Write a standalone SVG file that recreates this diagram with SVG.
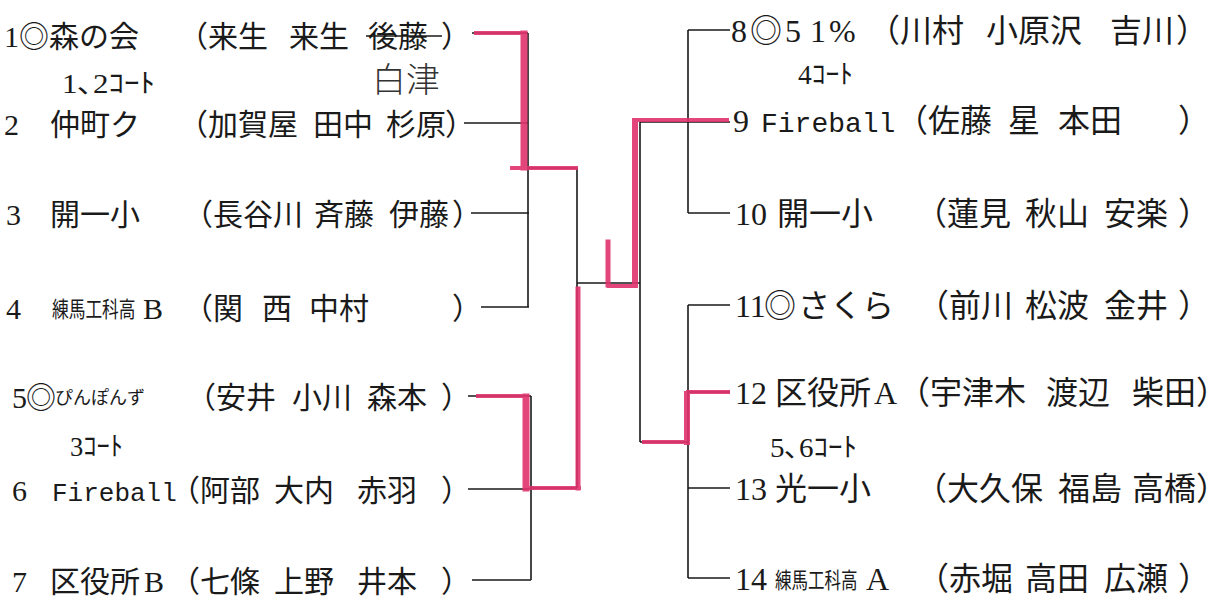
<svg xmlns="http://www.w3.org/2000/svg" width="1230" height="603" viewBox="0 0 1230 603">
<style>
.t{font-family:"Liberation Serif","Noto Sans CJK JP",serif;font-size:30px;fill:#1a1a1a}
.r{font-size:32px}
.m{font-family:"Liberation Mono","Noto Sans CJK JP",monospace}
.sm{font-size:22px}
.hk{font-size:18px}
.c{font-family:"Liberation Serif","Noto Sans CJK JP",serif;font-size:27px;fill:#1a1a1a}
.hw{font-family:"Noto Sans CJK JP",sans-serif;font-size:34px;font-weight:300;fill:#333}
.k{stroke:#1a1a1a;stroke-width:1.6;fill:none}
.red{stroke:#e0336c;fill:none;stroke-linecap:square;opacity:0.9}
</style>
<rect width="1230" height="603" fill="#fff"/>
<g id="connectors">
  <g class="k">
    <path d="M472 33H528M464 123H528M471 213H529M481 307H529M528 33V307M528 168H577"/>
    <path d="M468 396H531M468 489H531M472 580H531M531 396V580M531 488H577"/>
    <path d="M577 168V488M577 283H640M640 122V442"/>
    <path d="M640 122H730M688 30H730M688 213H730M688 30V213"/>
    <path d="M640 442H688M688 305H730M688 392H730M688 488H730M688 578H730M688 305V578"/>
  </g>
  <g class="red">
    <path d="M476 33H524" stroke-width="4"/>
    <path d="M524 34V167" stroke-width="7"/>
    <path d="M512 168H576" stroke-width="4"/>
    <path d="M478 396H526" stroke-width="4"/>
    <path d="M526 397V488" stroke-width="7"/>
    <path d="M528 488H579" stroke-width="4"/>
    <path d="M578 289V488" stroke-width="5"/>
    <path d="M608 242V285" stroke-width="5"/>
    <path d="M609 286H636" stroke-width="4"/>
    <path d="M635 121V285" stroke-width="6"/>
    <path d="M636 120H727" stroke-width="4"/>
    <path d="M644 442H686" stroke-width="4"/>
    <path d="M687 394V442" stroke-width="6"/>
    <path d="M688 392H728" stroke-width="4"/>
  </g>
</g>
<g id="team1"><text class="t" y="47"><tspan x="4">1</tspan><tspan x="19">◎森の会</tspan><tspan x="178">（来生</tspan><tspan x="289">来生</tspan><tspan x="368">後藤</tspan><tspan x="441">）</tspan></text>
<line x1="366" y1="36" x2="442" y2="36" class="k"/></g>
<g id="note-court12"><text class="c" x="62" y="93" textLength="93" lengthAdjust="spacingAndGlyphs">1､2ｺｰﾄ</text></g>
<g id="note-hw"><text class="hw" x="372" y="92">白津</text></g>
<g id="team2"><text class="t" y="135"><tspan x="4">2</tspan><tspan x="50">仲町ク</tspan><tspan x="178">（加賀屋</tspan><tspan x="313">田中</tspan><tspan x="386">杉原</tspan><tspan x="445">）</tspan></text></g>
<g id="team3"><text class="t" y="225"><tspan x="6">3</tspan><tspan x="50">開一小</tspan><tspan x="183">（長谷川</tspan><tspan x="314">斉藤</tspan><tspan x="389">伊藤</tspan><tspan x="452">）</tspan></text></g>
<g id="team4"><text class="t" x="6" y="319">4</text>
<text class="t sm" transform="translate(52 317) scale(0.76 1)">練馬工科高</text>
<text class="t" y="319"><tspan x="143">B</tspan><tspan x="183">（関</tspan><tspan x="262">西</tspan><tspan x="309">中村</tspan><tspan x="452">）</tspan></text></g>
<g id="team5"><text class="t" y="408"><tspan x="12">5</tspan><tspan x="26">◎</tspan></text>
<text class="t hk" x="55" y="404" textLength="90" lengthAdjust="spacingAndGlyphs">ぴんぽんず</text>
<text class="t" y="408"><tspan x="186">（安井</tspan><tspan x="292">小川</tspan><tspan x="367">森本</tspan><tspan x="441">）</tspan></text></g>
<g id="note-court3"><text class="c" x="70" y="456" textLength="53" lengthAdjust="spacingAndGlyphs">3ｺｰﾄ</text></g>
<g id="team6"><text class="t" y="501"><tspan x="12">6</tspan><tspan x="52" class="m" font-size="26">Fireball</tspan><tspan x="170">（阿部</tspan><tspan x="274">大内</tspan><tspan x="357">赤羽</tspan><tspan x="441">）</tspan></text></g>
<g id="team7"><text class="t" y="592"><tspan x="12">7</tspan><tspan x="50">区役所</tspan><tspan x="144">B</tspan><tspan x="170">（七條</tspan><tspan x="274">上野</tspan><tspan x="357">井本</tspan><tspan x="441">）</tspan></text></g>
<g id="team8"><text class="t r" y="42"><tspan x="731">8</tspan><tspan x="750">◎</tspan><tspan x="785">5</tspan><tspan x="810">1</tspan><tspan x="829">%</tspan><tspan x="868">（川村</tspan><tspan x="986">小原沢</tspan><tspan x="1110">吉川</tspan><tspan x="1176">）</tspan></text></g>
<g id="note-court4"><text class="c" x="798" y="84" textLength="55" lengthAdjust="spacingAndGlyphs">4ｺｰﾄ</text></g>
<g id="team9"><text class="t r" y="132"><tspan x="733">9</tspan><tspan x="761" class="m" font-size="28">Fireball</tspan><tspan x="896">（佐藤</tspan><tspan x="1008">星</tspan><tspan x="1058">本田</tspan><tspan x="1178">）</tspan></text></g>
<g id="team10"><text class="t r" y="225"><tspan x="735">10</tspan><tspan x="777">開一小</tspan><tspan x="915">（蓮見</tspan><tspan x="1025">秋山</tspan><tspan x="1104">安楽</tspan><tspan x="1178">）</tspan></text></g>
<g id="team11"><text class="t r" y="317"><tspan x="735">11</tspan><tspan x="764">◎</tspan><tspan x="798">さくら</tspan><tspan x="917">（前川</tspan><tspan x="1025">松波</tspan><tspan x="1104">金井</tspan><tspan x="1178">）</tspan></text></g>
<g id="team12"><text class="t r" y="404"><tspan x="735">12</tspan><tspan x="775">区役所</tspan><tspan x="874">A</tspan><tspan x="898">（宇津木</tspan><tspan x="1046">渡辺</tspan><tspan x="1132">柴田）</tspan></text></g>
<g id="note-court56"><text class="c" x="770" y="457" textLength="87" lengthAdjust="spacingAndGlyphs">5､6ｺｰﾄ</text></g>
<g id="team13"><text class="t r" y="500"><tspan x="735">13</tspan><tspan x="775">光一小</tspan><tspan x="915">（大久保</tspan><tspan x="1058">福島</tspan><tspan x="1132">高橋）</tspan></text></g>
<g id="team14"><text class="t r" x="735" y="590">14</text>
<text class="t sm" transform="translate(775 588) scale(0.75 1)">練馬工科高</text>
<text class="t r" y="590"><tspan x="866">A</tspan><tspan x="917">（赤堀</tspan><tspan x="1025">高田</tspan><tspan x="1104">広瀬</tspan><tspan x="1178">）</tspan></text></g>
</svg>
